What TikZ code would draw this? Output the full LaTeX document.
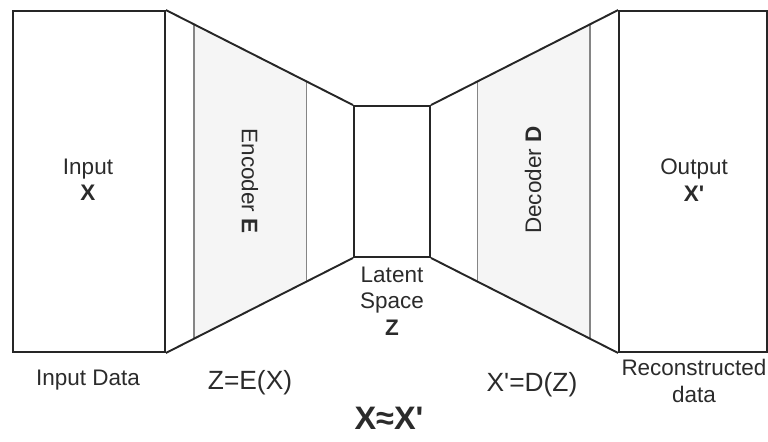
\documentclass[tikz,border=0pt]{standalone}
\usepackage{fontspec}
\setmainfont{Liberation Sans}[Ligatures=TeXOff]
\usetikzlibrary{calc}
\definecolor{txtgray}{HTML}{2B2B2B}
\definecolor{layergray}{HTML}{858585}
\definecolor{shadegray}{HTML}{F5F5F5}
\begin{document}
\begin{tikzpicture}[x=0.02cm, y=-0.02cm,
  box/.style={draw=black!85, line width=1.1pt, inner sep=0pt},
  layer/.style={draw=layergray, line width=1pt},
  edge/.style={draw=black!85, line width=1.1pt},
  lbl/.style={text=txtgray, align=center, inner sep=0pt, font=\fontsize{12.8}{15}\selectfont},
  fn/.style={lbl, font=\fontsize{15}{18}\selectfont}]
\useasboundingbox (0,0) rectangle (768,441);
% blocks
\node[box, minimum width=3.04cm, minimum height=6.82cm] (inp) at (89,181.5) {};
\node[box, minimum width=1.52cm, minimum height=3.02cm] (lat) at (392,181.5) {};
\node[box, minimum width=2.96cm, minimum height=6.82cm] (out) at (693,181.5) {};
% layer lines
\coordinate (e1t) at ($(inp.north east)!0.148!(lat.north west)$);
\coordinate (e1b) at ($(inp.south east)!0.148!(lat.south west)$);
\coordinate (e2t) at ($(inp.north east)!0.751!(lat.north west)$);
\coordinate (e2b) at ($(inp.south east)!0.751!(lat.south west)$);
\coordinate (d1t) at ($(lat.north east)!0.249!(out.north west)$);
\coordinate (d1b) at ($(lat.south east)!0.249!(out.south west)$);
\coordinate (d2t) at ($(lat.north east)!0.852!(out.north west)$);
\coordinate (d2b) at ($(lat.south east)!0.852!(out.south west)$);
\fill[shadegray] (e1t) -- (e2t) -- (e2b) -- (e1b) -- cycle;
\fill[shadegray] (d1t) -- (d2t) -- (d2b) -- (d1b) -- cycle;
\draw[layer] (e1t) -- (e1b);
\draw[layer] (e2t) -- (e2b);
\draw[layer] (d1t) -- (d1b);
\draw[layer] (d2t) -- (d2b);
\draw[edge] (inp.north east) -- (lat.north west);
\draw[edge] (inp.south east) -- (lat.south west);
\draw[edge] (lat.north east) -- (out.north west);
\draw[edge] (lat.south east) -- (out.south west);
% labels
\node[lbl] (inplbl) at (88,180) {Input\\\textbf{X}};
\node[lbl, rotate=-90] (enclbl) at (250,181) {Encoder \textbf{E}};
\node[lbl, rotate=90] (declbl) at (533,180) {Decoder \textbf{D}};
\node[lbl] (outlbl) at (694,180) {Output\\\textbf{X'}};
\node[lbl] (latlbl) at (392,301) {Latent\\Space\\\textbf{Z}};
\node[lbl] (inpdata) at (88,380) {Input Data};
\node[fn] (encfn) at (250,383) {Z=E(X)};
\node[fn] (decfn) at (532,385) {X'=D(Z)};
\node[lbl] (outdata) at (694,381) {Reconstructed\\data};
\node[lbl, font=\fontsize{18.5}{22}\selectfont\bfseries] (approx) at (389,418) {X≈X'};
\end{tikzpicture}
\end{document}
